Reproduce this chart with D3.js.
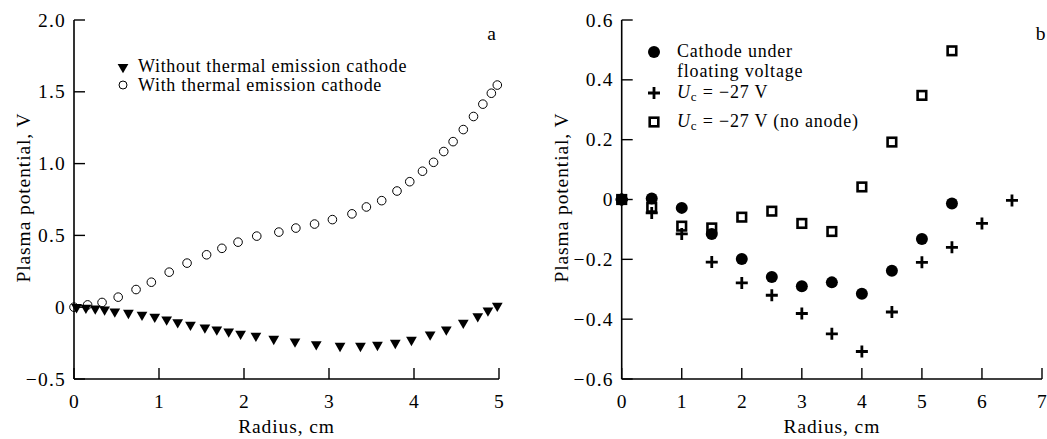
<!DOCTYPE html>
<html lang="en">
<head>
    <meta charset="UTF-8" />
    <title>Plasma potential</title>
    <script src="https://d3js.org/d3.v7.min.js"></script>
    <style>
        body { margin: 0; background: #fff; }
        svg text { font-family: "Liberation Serif", "Times New Roman", serif; fill: #000; }
        .tick-label { font-size: 19.5px; letter-spacing: 1.2px; }
        .axis-title { font-size: 19.5px; letter-spacing: 0.9px; }
        .legend { font-size: 18px; letter-spacing: 0.7px; }
        .legend-b { font-size: 18px; letter-spacing: 0.8px; }
    </style>
</head>
<body>
    <svg width="1047" height="439"></svg>
    <script>
        // ---- panel a data ----
        const aRadiusNo = [0.03, 0.14, 0.25, 0.36, 0.48, 0.64, 0.80, 0.95, 1.09, 1.22, 1.37, 1.54, 1.68, 1.82, 1.96,
            2.14, 2.35, 2.60, 2.85, 3.13, 3.37, 3.57, 3.78, 3.97, 4.19, 4.38, 4.58, 4.75, 4.87, 4.98];
        const aPotentialNo = [0, -0.005, -0.01, -0.016, -0.03, -0.04, -0.053, -0.067, -0.086, -0.105, -0.123, -0.142,
            -0.156, -0.17, -0.186, -0.2, -0.221, -0.24, -0.258, -0.27, -0.27, -0.263, -0.249, -0.228, -0.19, -0.156,
            -0.109, -0.063, -0.023, 0.009];
        const aRadiusWith = [0, 0.16, 0.33, 0.52, 0.73, 0.91, 1.12, 1.33, 1.56, 1.74, 1.93, 2.15, 2.41, 2.61, 2.83,
            3.04, 3.27, 3.44, 3.62, 3.80, 3.95, 4.10, 4.23, 4.35, 4.46, 4.58, 4.70, 4.81, 4.91, 4.98];
        const aPotentialWith = [0, 0.016, 0.033, 0.07, 0.123, 0.174, 0.244, 0.307, 0.365, 0.41, 0.453, 0.495, 0.523,
            0.551, 0.579, 0.61, 0.65, 0.698, 0.742, 0.809, 0.874, 0.947, 1.009, 1.084, 1.153, 1.237, 1.328, 1.414,
            1.49, 1.547];
        const aYTicks = [-0.5, 0, 0.5, 1.0, 1.5, 2.0];
        const aYTickLabels = ["\u22120.5", "0", "0.5", "1.0", "1.5", "2.0"];
        const aXTicks = [0, 1, 2, 3, 4, 5];

        // ---- panel b data ----
        const bRadiusFloat = [0, 0.5, 1, 1.5, 2, 2.5, 3, 3.5, 4, 4.5, 5, 5.5];
        const bPotentialFloat = [0, 0.003, -0.028, -0.115, -0.199, -0.259, -0.29, -0.277, -0.315, -0.238, -0.132, -0.013];
        const bRadiusUc = [0, 0.5, 1, 1.5, 2, 2.5, 3, 3.5, 4, 4.5, 5, 5.5, 6, 6.5];
        const bPotentialUc = [0, -0.045, -0.115, -0.209, -0.279, -0.32, -0.381, -0.449, -0.508, -0.376, -0.21, -0.16, -0.08, -0.003];
        const bRadiusNoAnode = [0, 0.5, 1, 1.5, 2, 2.5, 3, 3.5, 4, 4.5, 5, 5.5];
        const bPotentialNoAnode = [0, -0.026, -0.089, -0.095, -0.059, -0.039, -0.08, -0.107, 0.042, 0.192, 0.348, 0.497];
        const bYTicks = [-0.6, -0.4, -0.2, 0, 0.2, 0.4, 0.6];
        const bYTickLabels = ["\u22120.6", "\u22120.4", "\u22120.2", "0", "0.2", "0.4", "0.6"];
        const bXTicks = [0, 1, 2, 3, 4, 5, 6, 7];

        const svg = d3.select("svg");
        const zip = (xs, ys) => xs.map((x, i) => ({ x: x, y: ys[i] }));

        // draws the L-shaped axes with inward ticks
        function drawAxes(x, y, xTicks, yTicks, yLabels, titleOffset, panelLetter, letterX) {
            const g = svg.append("g");
            const [x0, x1] = x.range();
            const [y0, y1] = y.range();
            g.append("line").attr("x1", x0).attr("x2", x0).attr("y1", y0).attr("y2", y1)
                .attr("stroke", "#000").attr("stroke-width", 1.6);
            g.append("line").attr("x1", x0).attr("x2", x1).attr("y1", y0).attr("y2", y0)
                .attr("stroke", "#000").attr("stroke-width", 1.6);

            yTicks.forEach((t, i) => {
                g.append("line").attr("x1", x0).attr("x2", x0 + 11).attr("y1", y(t)).attr("y2", y(t))
                    .attr("stroke", "#000").attr("stroke-width", 1.4);
                g.append("text").attr("class", "tick-label")
                    .attr("x", x0 - 8).attr("y", y(t) + 6.5)
                    .attr("text-anchor", "end").text(yLabels[i]);
            });
            xTicks.forEach(t => {
                g.append("line").attr("x1", x(t)).attr("x2", x(t)).attr("y1", y0).attr("y2", y0 - 11)
                    .attr("stroke", "#000").attr("stroke-width", 1.4);
                g.append("text").attr("class", "tick-label")
                    .attr("x", x(t) + 0.6).attr("y", y0 + 29)
                    .attr("text-anchor", "middle").text(t);
            });

            g.append("text").attr("class", "axis-title")
                .attr("x", (x0 + x1) / 2).attr("y", y0 + 54)
                .attr("text-anchor", "middle").text("Radius, cm");
            g.append("text").attr("class", "axis-title")
                .attr("transform", "translate(" + (x0 - titleOffset) + "," + ((y0 + y1) / 2 - 2) + ") rotate(-90)")
                .attr("text-anchor", "middle").text("Plasma potential, V");
            g.append("text").attr("class", "axis-title")
                .attr("x", letterX).attr("y", 40).attr("text-anchor", "middle").text(panelLetter);
        }

        // ---------- panel a ----------
        const xa = d3.scaleLinear().domain([0, 5]).range([74, 499]);
        const ya = d3.scaleLinear().domain([-0.5, 2.0]).range([379, 20]);
        drawAxes(xa, ya, aXTicks, aYTicks, aYTickLabels, 44, "a", 492);

        const triDown = d3.symbol().type(d3.symbolTriangle).size(50);
        svg.append("g").selectAll("path")
            .data(zip(aRadiusNo, aPotentialNo)).enter().append("path")
            .attr("d", triDown)
            .attr("transform", d => "translate(" + xa(d.x) + "," + ya(d.y) + ") rotate(180)")
            .attr("fill", "#000");
        svg.append("g").selectAll("circle")
            .data(zip(aRadiusWith, aPotentialWith)).enter().append("circle")
            .attr("cx", d => xa(d.x)).attr("cy", d => ya(d.y)).attr("r", 4.3)
            .attr("fill", "none").attr("stroke", "#000").attr("stroke-width", 1);

        // legend a
        svg.append("path").attr("d", triDown)
            .attr("transform", "translate(123,67) rotate(180)").attr("fill", "#000");
        svg.append("text").attr("class", "legend").attr("x", 138).attr("y", 72)
            .text("Without thermal emission cathode");
        svg.append("circle").attr("cx", 123).attr("cy", 85).attr("r", 4)
            .attr("fill", "none").attr("stroke", "#000");
        svg.append("text").attr("class", "legend").attr("x", 138).attr("y", 91)
            .text("With thermal emission cathode");

        // ---------- panel b ----------
        const xb = d3.scaleLinear().domain([0, 7]).range([621.7, 1042]);
        const yb = d3.scaleLinear().domain([-0.6, 0.6]).range([379, 20]);
        drawAxes(xb, yb, bXTicks, bYTicks, bYTickLabels, 54, "b", 1041);

        function plus(g, cx, cy) {
            g.append("path").attr("d", "M" + (cx - 6) + "," + cy + "H" + (cx + 6) + "M" + cx + "," + (cy - 6) + "V" + (cy + 6))
                .attr("stroke", "#000").attr("stroke-width", 2.8).attr("fill", "none");
        }
        function square(g, cx, cy) {
            g.append("rect").attr("x", cx - 4.3).attr("y", cy - 4.3).attr("width", 8.6).attr("height", 8.6)
                .attr("fill", "#fff").attr("stroke", "#000").attr("stroke-width", 2.6);
        }

        const gb = svg.append("g");
        zip(bRadiusNoAnode, bPotentialNoAnode).forEach(d => square(gb, xb(d.x), yb(d.y)));
        zip(bRadiusUc, bPotentialUc).forEach(d => plus(gb, xb(d.x), yb(d.y)));
        gb.selectAll("circle.float")
            .data(zip(bRadiusFloat, bPotentialFloat)).enter().append("circle")
            .attr("class", "float")
            .attr("cx", d => xb(d.x)).attr("cy", d => yb(d.y)).attr("r", 6)
            .attr("fill", "#000");

        // legend b
        svg.append("circle").attr("cx", 654).attr("cy", 52).attr("r", 6).attr("fill", "#000");
        svg.append("text").attr("class", "legend-b").attr("x", 677).attr("y", 57).text("Cathode under");
        svg.append("text").attr("class", "legend-b").attr("x", 677).attr("y", 77).text("floating voltage");
        plus(svg, 654, 93);
        const uc1 = svg.append("text").attr("class", "legend-b").attr("x", 677).attr("y", 98);
        uc1.append("tspan").attr("font-style", "italic").text("U");
        uc1.append("tspan").attr("font-size", "13px").attr("dy", 3).text("c");
        uc1.append("tspan").attr("dy", -3).text(" = \u221227 V");
        square(svg, 654, 122);
        const uc2 = svg.append("text").attr("class", "legend-b").attr("x", 677).attr("y", 127);
        uc2.append("tspan").attr("font-style", "italic").text("U");
        uc2.append("tspan").attr("font-size", "13px").attr("dy", 3).text("c");
        uc2.append("tspan").attr("dy", -3).text(" = \u221227 V (no anode)");
    </script>
</body>
</html>
